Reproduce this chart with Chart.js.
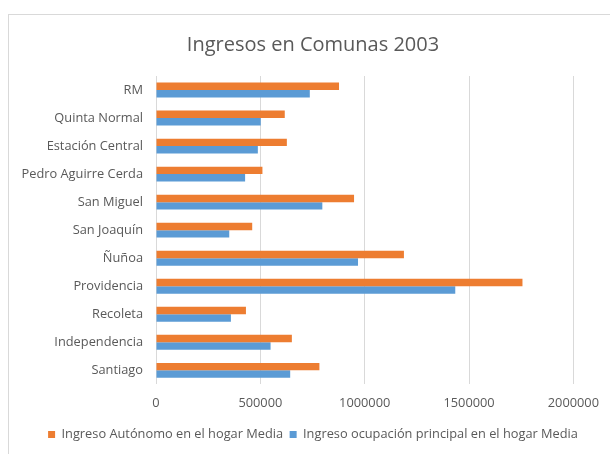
<!DOCTYPE html>
<html>
<head>
<meta charset="utf-8">
<script src="https://cdn.jsdelivr.net/npm/chart.js@4/dist/chart.umd.min.js"></script>
<style>
  html, body { margin: 0; padding: 0; background: #fff; }
  #wrap { position: relative; width: 610px; height: 454px; overflow: hidden; }
  #frame { position: absolute; left: 8px; top: 14px; width: 700px; height: 600px; border-left: 1px solid #d9d9d9; border-top: 1px solid #d9d9d9; box-sizing: border-box; }
  canvas { position: absolute; left: 0; top: 0; }
</style>
</head>
<body>
<div id="wrap">
  <div id="frame"></div>
  <canvas id="c" width="610" height="454"></canvas>
</div>
<script>
const chartTitle = "Ingresos en Comunas 2003";
const comunas = ["RM", "Quinta Normal", "Estación Central", "Pedro Aguirre Cerda", "San Miguel", "San Joaquín", "Ñuñoa", "Providencia", "Recoleta", "Independencia", "Santiago"];
const seriesNames = ["Ingreso Autónomo en el hogar Media", "Ingreso ocupación principal en el hogar Media"];
const ingresoAutonomo = [877000, 617000, 627000, 510000, 949000, 461000, 1188000, 1756000, 431000, 651000, 783000];
const ingresoOcupacion = [737000, 502000, 488000, 427000, 797000, 351000, 968000, 1434000, 359000, 549000, 643000];
const xTicks = [0, 500000, 1000000, 1500000, 2000000];

const FONT = "'Open Sans', 'Liberation Sans', sans-serif";
const GREY = "#595959";

new Chart(document.getElementById("c"), {
  type: "bar",
  data: {
    labels: comunas,
    datasets: [
      { label: seriesNames[0], data: ingresoAutonomo, backgroundColor: "#ED7D31", barPercentage: 1.0, categoryPercentage: 0.53 },
      { label: seriesNames[1], data: ingresoOcupacion, backgroundColor: "#5B9BD5", barPercentage: 1.0, categoryPercentage: 0.53 }
    ]
  },
  options: {
    indexAxis: "y",
    responsive: false,
    animation: false,
    devicePixelRatio: 1,
    layout: { padding: { left: 16, right: 0, top: 16, bottom: 3 } },
    plugins: {
      title: {
        display: true,
        text: chartTitle,
        color: GREY,
        font: { family: FONT, size: 20, weight: "normal" },
        padding: { top: 17, bottom: 19 }
      },
      legend: {
        position: "bottom",
        labels: {
          color: GREY,
          font: { family: FONT, size: 12.8 },
          boxWidth: 7,
          boxHeight: 7,
          padding: 6.5
        }
      },
      tooltip: { enabled: false }
    },
    scales: {
      x: {
        min: 0,
        max: 2000000,
        afterBuildTicks: (s) => { s.ticks = xTicks.map(v => ({ value: v })); },
        ticks: { color: GREY, font: { family: FONT, size: 12.8 }, padding: 11, maxRotation: 0, callback: (v) => String(v) },
        grid: { color: "#d9d9d9", drawTicks: false },
        border: { display: false }
      },
      y: {
        afterFit: (s) => { s.width = 140; },
        ticks: { color: GREY, font: { family: FONT, size: 12.8 }, padding: 13 },
        grid: { display: false, drawTicks: false },
        border: { display: false }
      },
      yRight: {
        type: "linear",
        position: "right",
        display: true,
        afterFit: (s) => { s.width = 36; },
        ticks: { display: false },
        grid: { display: false, drawTicks: false },
        border: { display: false }
      }
    }
  }
});
</script>
</body>
</html>
